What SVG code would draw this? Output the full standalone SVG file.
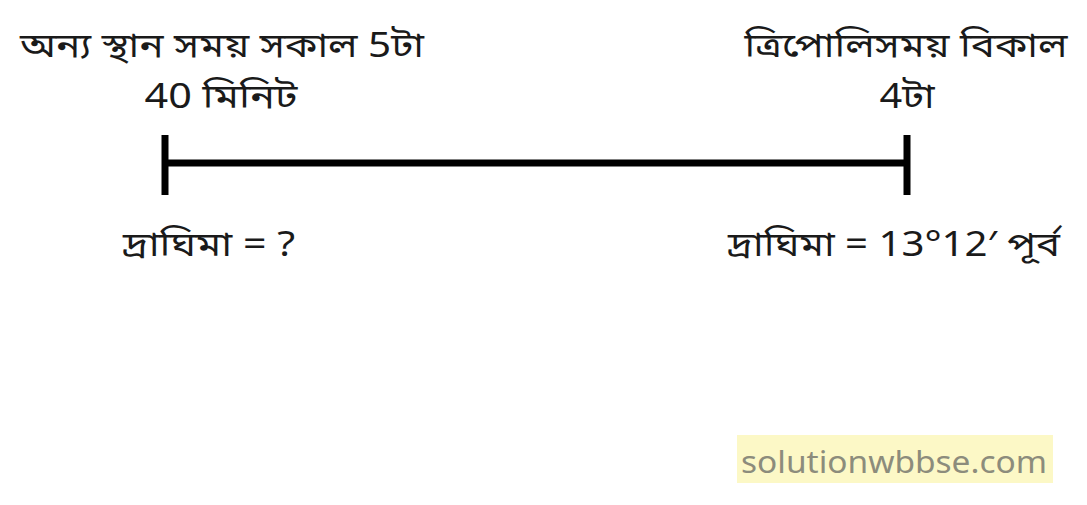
<svg xmlns="http://www.w3.org/2000/svg" width="1087" height="505" viewBox="0 0 1087 505">
<style>
.t{font-family:"Noto Sans","Noto Sans Bengali","Lohit Bengali","FreeSans",sans-serif;font-size:34px;fill:#1a1a1a}
.c{text-anchor:middle}
.bar{stroke:#000;stroke-width:7;fill:none}
.wm{font-family:"Noto Sans","Open Sans",sans-serif;font-size:31px;fill:#8c8c7c}
</style>
<rect width="1087" height="505" fill="#fff"/>
<g id="connectors">
<line class="bar" x1="165" y1="163" x2="907" y2="163"/>
<line class="bar" x1="165" y1="135" x2="165" y2="195"/>
<line class="bar" x1="907" y1="135" x2="907" y2="195"/>
</g>
<g id="left-node">
<text class="t c" x="222" y="57" textLength="404" lengthAdjust="spacingAndGlyphs">অন্য স্থান সময় সকাল 5টা</text>
<text class="t c" x="221" y="108" textLength="153" lengthAdjust="spacingAndGlyphs">40 মিনিট</text>
<text class="t c" x="209" y="256" textLength="172" lengthAdjust="spacingAndGlyphs">দ্রাঘিমা = ?</text>
</g>
<g id="right-node">
<text class="t c" x="906" y="57" textLength="323" lengthAdjust="spacingAndGlyphs">ত্রিপোলিসময় বিকাল</text>
<text class="t c" x="907" y="108" textLength="55" lengthAdjust="spacingAndGlyphs">4টা</text>
<text class="t c" x="894" y="256" textLength="332" lengthAdjust="spacingAndGlyphs">দ্রাঘিমা = 13°12′ পূর্ব</text>
</g>
<g id="watermark">
<rect x="737" y="435" width="316" height="48" fill="#fcf8c6"/>
<text class="wm c" x="894" y="473" textLength="306" lengthAdjust="spacingAndGlyphs">solutionwbbse.com</text>
</g>
</svg>
